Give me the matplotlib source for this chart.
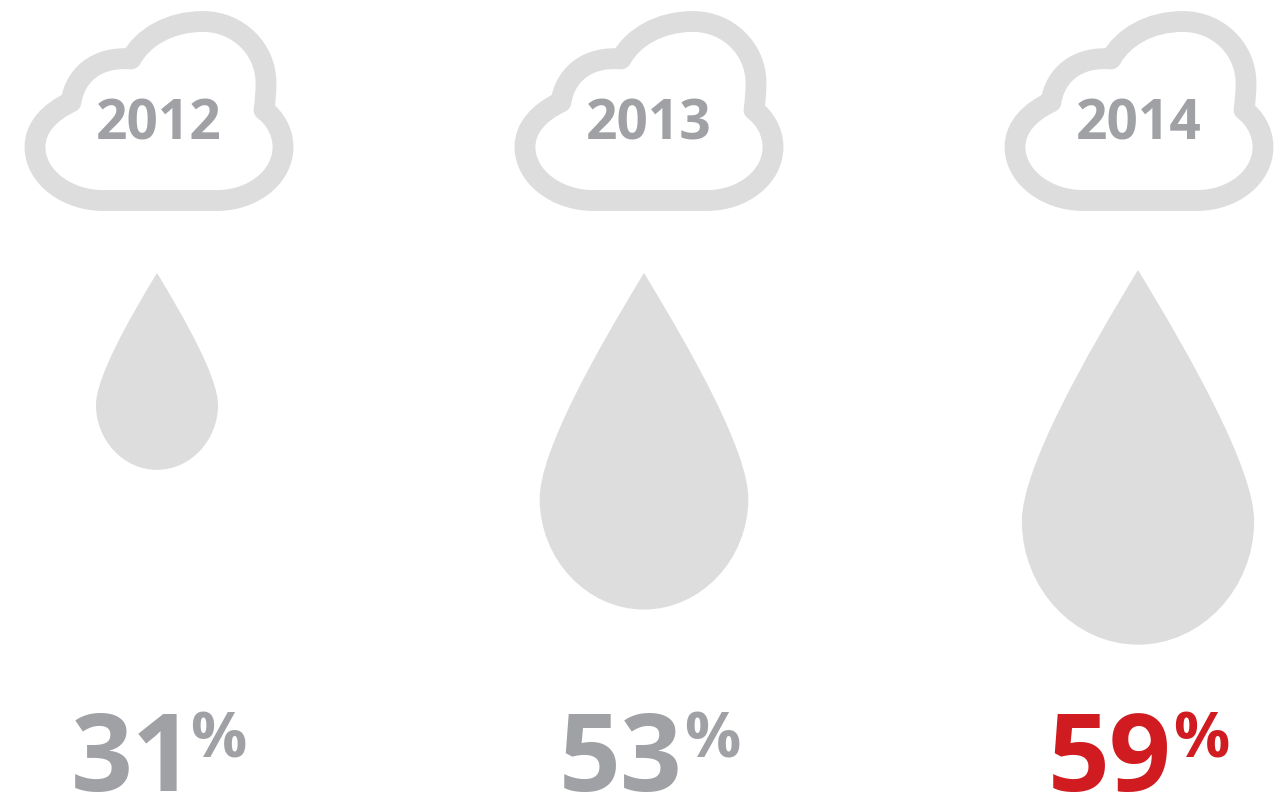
import matplotlib
matplotlib.use("Agg")
import matplotlib.pyplot as plt
from matplotlib.path import Path
from matplotlib.patches import PathPatch
from matplotlib.transforms import Affine2D

# values
years = ["2012", "2013", "2014"]
percents = [31, 53, 59]

# layout, in pixels of the 1287x797 picture
cloud_x = [0, 490, 980]
drop_x = [157, 644, 1138]
drop_top = [273, 273, 270]
number_x = [71, 559, 1048]
pct_x = [190, 684, 1173]
px_per_percent = 6.35

GREY = "#a0a1a5"
LIGHT = "#dddddd"
RED = "#d01c21"

# unit drop, tip at 0,0 and height 1
drop_verts = [(0, 0), (0.14, 0.23), (0.31, 0.53), (0.31, 0.67),
              (0.31, 0.85), (0.17, 1), (0, 1),
              (-0.17, 1), (-0.31, 0.85), (-0.31, 0.67),
              (-0.31, 0.53), (-0.14, 0.23), (0, 0), (0, 0)]
drop_codes = [Path.MOVETO] + [Path.CURVE4] * 12 + [Path.CLOSEPOLY]
drop_path = Path(drop_verts, drop_codes)

# cloud outline, centre line of the stroke
cloud_verts = [(103, 200.5), (67, 200.5), (35, 177), (35, 147),
               (35, 127), (50, 112), (71, 102),
               (75, 75), (97, 56), (131, 59),
               (143, 37), (170, 21.5), (203, 21.5),
               (238, 21.5), (266, 49), (266, 83),
               (266, 93), (265, 103), (264, 110),
               (275, 118), (283, 132), (283, 147),
               (283, 177), (253, 200.5), (217, 200.5),
               (103, 200.5), (103, 200.5)]
cloud_codes = [Path.MOVETO] + [Path.CURVE4] * 24 + [Path.LINETO, Path.CLOSEPOLY]
cloud_path = Path(cloud_verts, cloud_codes)

plt.rcParams["font.family"] = ["Open Sans", "DejaVu Sans"]

fig = plt.figure(figsize=(12.87, 7.97), dpi=100)
ax = fig.add_axes([0, 0, 1, 1])
ax.set_xlim(0, 1287)
ax.set_ylim(797, 0)
ax.axis("off")

for i, year in enumerate(years):
    # cloud with the year in it
    move = Affine2D().translate(cloud_x[i], 0)
    ax.add_patch(PathPatch(cloud_path.transformed(move), facecolor="none",
                           edgecolor=LIGHT, lw=15, joinstyle="round"))
    ax.text(cloud_x[i] + 159, 139, year, color=GREY, fontsize=39.6,
            fontweight="bold", ha="center", va="baseline")

    # drop size follows the value
    size = percents[i] * px_per_percent
    scale = Affine2D().scale(size).translate(drop_x[i], drop_top[i])
    ax.add_patch(PathPatch(drop_path.transformed(scale), facecolor=LIGHT,
                           edgecolor="none"))

    color = RED if year == "2014" else GREY
    ax.text(number_x[i], 791, str(percents[i]), color=color, fontsize=78,
            fontweight="bold", ha="left", va="baseline")
    ax.text(pct_x[i], 757, "%", color=color, fontsize=45,
            fontweight="bold", ha="left", va="baseline")

fig.savefig("out.png", dpi=100)
